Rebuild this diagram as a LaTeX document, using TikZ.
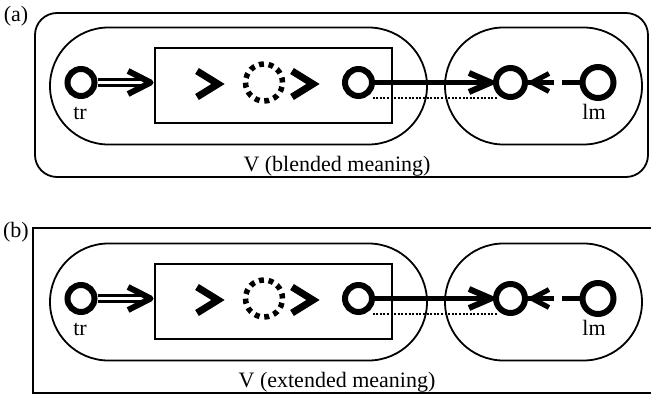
\documentclass[tikz,border=0pt]{standalone}
\usepackage{fontspec}
\setmainfont{Liberation Serif}
\usetikzlibrary{calc}
\tikzset{
  ring/.style={circle, draw, line width=6pt, inner sep=0pt, minimum size=27pt},
  bigring/.style={ring, minimum size=29pt},
  dotring/.style={circle, draw, line width=5.5pt, inner sep=0pt, minimum size=37pt, dash pattern=on 5pt off 4.7pt},
  outline/.style={draw, line width=1.8pt, inner sep=0pt},
  lab/.style={font=\fontsize{22}{26}\selectfont, inner sep=0pt},
  thickline/.style={line width=5.5pt},
  dblline/.style={line width=3.5pt, double, double distance=2.4pt},
  chev/.style={line width=6pt, line cap=butt, line join=round},
  glyph/.style={line width=7pt, line cap=butt, line join=miter, miter limit=10},
  corr/.style={line width=2pt, dash pattern=on 2pt off 1.6pt},
}
\newcommand\panelbody[2]{%
  \node[outline, rounded corners=58.5pt, minimum width=377pt, minimum height=117pt] (#1-ls) at (238.5,86) {};
  \node[outline, rounded corners=58.5pt, minimum width=197pt, minimum height=117pt] (#1-rs) at (543.5,86) {};
  \node[outline, minimum width=237pt, minimum height=75pt] (#1-box) at (273.5,85.5) {};
  \node[ring] (#1-tr) at (81,82.5) {};
  \node[dotring] (#1-mid) at (264,82.5) {};
  \node[ring] (#1-c3) at (358.5,82.5) {};
  \node[bigring] (#1-c4) at (510.5,82.5) {};
  \node[bigring, minimum size=31pt] (#1-lm) at (598,82.5) {};
  \coordinate (#1-g1) at (218,84);
  \coordinate (#1-g2) at (313,84);
  \draw[glyph] ($(#1-g1)+(-21,-13)$) -- (#1-g1) -- ($(#1-g1)+(-21,13)$);
  \draw[glyph] ($(#1-g2)+(-21,-13)$) -- (#1-g2) -- ($(#1-g2)+(-21,13)$);
  % double arrow tr -> box
  \draw[dblline, shorten >=9pt] (#1-tr) -- (#1-tr -| #1-box.west);
  \draw[chev] ($(#1-tr -| #1-box.west)+(-26,-11.5)$) -- ($(#1-tr -| #1-box.west)+(-3.5,0)$) -- ($(#1-tr -| #1-box.west)+(-26,11.5)$);
  % thick arrow c3 -> c4
  \draw[thickline] (#1-c3) -- (#1-c4);
  \draw[chev] ($(#1-c4.west)+(-24,-9.5)$) -- ($(#1-c4.west)+(-2,0)$) -- ($(#1-c4.west)+(-24,9.5)$);
  % dashed arrow lm -> c4
  \draw[thickline, line width=5pt, dash pattern=on 18pt off 8pt on 200pt] (#1-lm) -- (#1-c4);
  \draw[chev, line width=5pt] ($(#1-c4.east)+(21,-9)$) -- ($(#1-c4.east)+(4,0)$) -- ($(#1-c4.east)+(21,9)$);
  % correspondence line
  \draw[corr] ($(#1-c3.center)+(14,16)$) -- ($(#1-c4.center)+(-14,16)$);
  \node[lab, anchor=base] (#1-trl) at (80,120) {tr};
  \node[lab, anchor=base] (#1-lml) at (594,120) {lm};
  \node[lab, anchor=base] (#1-v) at (337,172) {#2};
}
\begin{document}
\begin{tikzpicture}[x=1pt, y=-1pt]
  \useasboundingbox (0,0) rectangle (651,395);
  % panel (a)
  \node[lab, anchor=base] (alab) at (16,22) {(a)};
  \node[outline, rounded corners=22pt, minimum width=613pt, minimum height=164pt] (a-outer) at (341.5,95) {};
  \panelbody{a}{V (blended meaning)}
  % panel (b)
  \begin{scope}[shift={(0,216)}]
    \node[lab, anchor=base] (blab) at (16,22) {(b)};
    \coordinate (b-tl) at (33,12);
    \coordinate (b-bl) at (33,177);
    \draw[line width=1.8pt] (651,12) -- (b-tl) -- (b-bl) -- (651,177);
    \panelbody{b}{V (extended meaning)}
  \end{scope}
\end{tikzpicture}
\end{document}
